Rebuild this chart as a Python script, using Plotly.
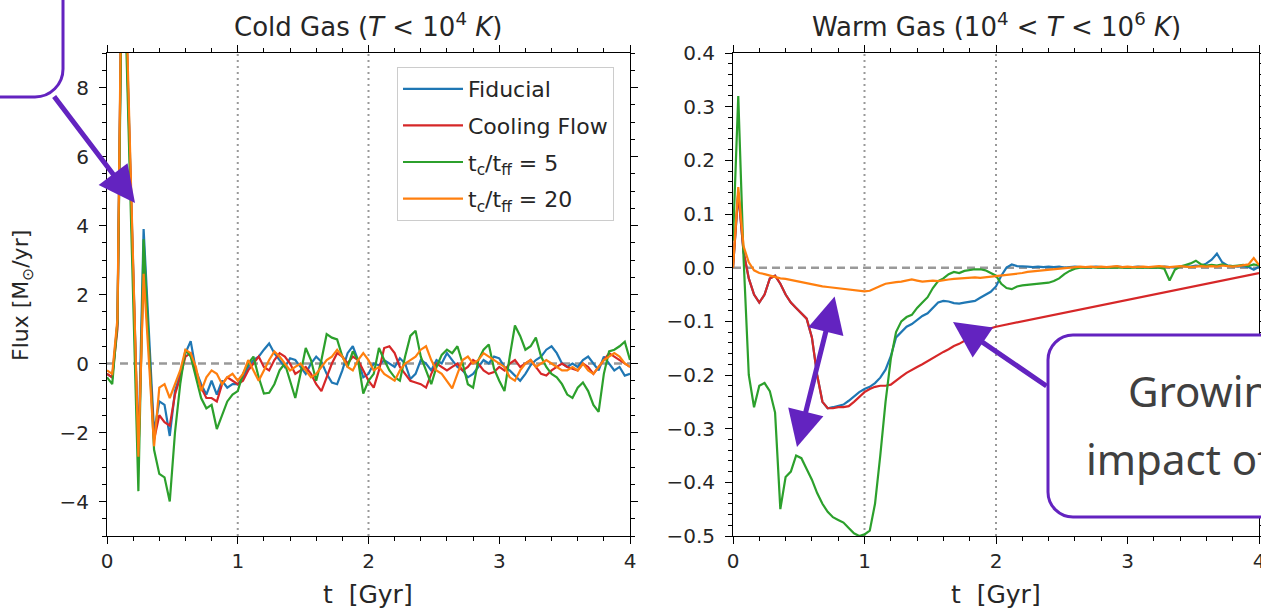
import plotly.graph_objects as go

# ---------------- data ----------------
t = [0.00, 0.04, 0.08, 0.12, 0.16, 0.20, 0.24, 0.28, 0.32, 0.36,
     0.40, 0.44, 0.48, 0.52, 0.56, 0.60, 0.64, 0.68, 0.72, 0.76,
     0.80, 0.84, 0.88, 0.92, 0.96, 1.00, 1.04, 1.08, 1.12, 1.16,
     1.20, 1.24, 1.28, 1.32, 1.36, 1.40, 1.44, 1.48, 1.52, 1.56,
     1.60, 1.64, 1.68, 1.72, 1.76, 1.80, 1.84, 1.88, 1.92, 1.96,
     2.00, 2.04, 2.08, 2.12, 2.16, 2.20, 2.24, 2.28, 2.32, 2.36,
     2.40, 2.44, 2.48, 2.52, 2.56, 2.60, 2.64, 2.68, 2.72, 2.76,
     2.80, 2.84, 2.88, 2.92, 2.96, 3.00, 3.04, 3.08, 3.12, 3.16,
     3.20, 3.24, 3.28, 3.32, 3.36, 3.40, 3.44, 3.48, 3.52, 3.56,
     3.60, 3.64, 3.68, 3.72, 3.76, 3.80, 3.84, 3.88, 3.92, 3.96,
     4.00]

series_names = ["Fiducial", "Cooling Flow",
                "t<sub>c</sub>/t<sub>ff</sub> = 5", "t<sub>c</sub>/t<sub>ff</sub> = 20"]
series_colors = ["#1f77b4", "#d62728", "#2ca02c", "#ff7f0e"]

cold_fiducial = [-0.3, -0.4, 1.2, 14.0, 8.2, 2.5, -2.6, 3.9, 0.8, -2.0,
                 -1.1, -1.2, -2.1, -0.8, -0.3, 0.3, 0.65, -0.2, -0.6, -0.9,
                 -0.5, -0.9, -0.5, -0.7, -0.6, -0.6, -0.4, -0.1, 0.1, 0.2,
                 0.4, 0.58, 0.3, 0.1, -0.1, 0.15, 0.1, -0.1, -0.3, 0.0,
                 0.2, 0.05, -0.3, -0.55, -0.6, -0.2, 0.3, 0.5, 0.1, -0.4,
                 -0.3, 0.0, -0.05, 0.1, 0.0, -0.1, 0.15, 0.0, -0.45, -0.3,
                 0.1, 0.0, -0.2, 0.1, 0.0, 0.3, 0.1, -0.1, -0.2, -0.4,
                 -0.3, -0.1, 0.1, 0.0, 0.2, 0.15, -0.1, -0.2, -0.35, -0.5,
                 -0.3, -0.05, 0.1, 0.2, 0.4, 0.5, 0.3, 0.0, -0.1, 0.0,
                 -0.1, 0.1, 0.2, 0.0, -0.2, 0.2, 0.0, -0.2, -0.1, -0.35,
                 -0.3]
cold_cooling = [-0.3, -0.4, 1.0, 14.0, 8.0, 2.3, -2.7, 2.8, 0.5, -2.2,
                -1.5, -1.7, -1.8, -0.9, -0.4, 0.2, 0.3, -0.3, -0.7, -1.0,
                -1.0, -1.1, -0.6, -0.4, -0.5, -0.6, -0.5, -0.2, 0.0, 0.2,
                -0.1, -0.2, 0.1, 0.3, 0.2, 0.0, -0.3, -0.2, -0.1, -0.3,
                -0.6, -0.8, -0.4, 0.0, 0.3, 0.2, 0.0, 0.2, 0.1, -0.2,
                -0.5, -0.7, -0.2, 0.45, 0.5, 0.3, -0.1, -0.3, -0.5, -0.55,
                -0.6, -0.7, -0.3, 0.0, -0.1, -0.2, -0.1, 0.0, -0.2, -0.1,
                0.1, 0.0, -0.2, -0.3, -0.25, -0.1, -0.2, 0.0, 0.1, -0.1,
                0.0, 0.1, -0.1, -0.3, -0.35, -0.2, -0.1, 0.0, -0.1, -0.15,
                -0.2, 0.0, -0.1, -0.3, -0.1, 0.1, 0.3, 0.2, 0.1, 0.0,
                -0.1]
cold_tc5 = [-0.4, -0.6, 1.2, 13.0, 7.5, 2.0, -3.7, 3.6, 0.5, -2.5,
            -3.2, -3.3, -4.0, -2.0, -0.6, 0.4, 0.2, -0.4, -1.0, -1.3,
            -1.2, -1.9, -1.5, -1.1, -0.9, -0.8, -0.3, 0.0, 0.2, -0.4,
            -0.87, -0.85, -0.6, -0.2, 0.0, -0.5, -1.0, -0.3, 0.45, 0.1,
            -0.5, 0.1, 0.85, 0.75, 0.7, 0.2, -0.1, 0.35, 0.1, -0.87,
            -0.5, -0.3, 0.45, 0.1, -0.2, -0.4, -0.5, 0.2, 0.8, 0.95,
            0.2, -0.2, -0.6, -0.1, 0.25, 0.4, 0.3, 0.5, 0.0, -0.6,
            -0.7, 0.1, 0.4, 0.55, -0.15, -0.5, -0.8, 0.2, 1.1, 0.8,
            0.4, 0.5, 0.75, 0.2, -0.1, -0.3, -0.4, -0.6, -0.9, -1.0,
            -0.7, -0.55, -0.8, -1.2, -1.4, -0.3, 0.35, 0.4, 0.5, 0.63,
            0.1]
cold_tc20 = [-0.2, -0.3, 1.3, 14.5, 8.5, 2.5, -2.7, 2.6, 0.2, -2.4,
             -0.7, -0.6, -1.0, -0.6, -0.2, 0.4, 0.3, -0.1, -0.8, -0.4,
             -0.2, -0.3, -0.6, -0.4, -0.3, -0.5, -0.3, 0.1, -0.2, -0.5,
             -0.2, 0.1, 0.35, 0.2, 0.0, -0.2, -0.1, 0.0, -0.2, -0.4,
             -0.3, -0.1, 0.1, 0.2, 0.4, 0.2, -0.1, -0.2, 0.1, 0.3,
             0.1, -0.2, -0.1, -0.3, -0.4, -0.5, -0.2, 0.0, 0.1, 0.2,
             0.4, 0.5, 0.1, -0.2, -0.3, -0.5, -0.72, -0.3, 0.1, 0.2,
             0.0, 0.1, 0.3, 0.2, 0.1, 0.0, -0.1, -0.4, -0.5, -0.2,
             0.0, 0.1, -0.1, 0.0, 0.1, 0.0, -0.1, -0.2, -0.2, -0.1,
             -0.2, 0.0, -0.2, -0.3, -0.1, 0.1, 0.2, 0.3, 0.2, 0.0,
             -0.1]

warm_fiducial = [0.0, 0.14, 0.03, -0.02, -0.05, -0.065, -0.05, -0.02, -0.015, -0.03,
                 -0.05, -0.065, -0.075, -0.085, -0.095, -0.13, -0.2, -0.25, -0.262, -0.26,
                 -0.258, -0.255, -0.248, -0.24, -0.232, -0.226, -0.222, -0.215, -0.205, -0.19,
                 -0.165, -0.13, -0.12, -0.11, -0.105, -0.098, -0.09, -0.085, -0.075, -0.065,
                 -0.062, -0.063, -0.066, -0.067, -0.065, -0.064, -0.062, -0.056, -0.05, -0.045,
                 -0.035, -0.015, 0.0, 0.006, 0.003, 0.003, 0.002, 0.001, 0.002, 0.001,
                 0.002, 0.001, 0.002, 0.0, 0.001, 0.002, 0.001, 0.0, 0.001, 0.002,
                 0.001, 0.0, 0.001, 0.002, 0.001, 0.0, 0.001, 0.002, 0.001, 0.0,
                 0.001, 0.0, 0.002, 0.001, 0.0, 0.002, 0.003, 0.002, 0.004, 0.003,
                 0.008, 0.015, 0.026, 0.01, 0.004, 0.003, 0.002, 0.003, 0.001, -0.004,
                 0.002]
warm_cooling = [0.0, 0.14, 0.03, -0.02, -0.05, -0.065, -0.05, -0.02, -0.015, -0.03,
                -0.05, -0.065, -0.075, -0.085, -0.095, -0.13, -0.2, -0.25, -0.262, -0.262,
                -0.26, -0.26, -0.258, -0.25, -0.24, -0.232, -0.226, -0.222, -0.22, -0.22,
                -0.218, -0.21, -0.203, -0.196, -0.19, -0.185, -0.18, -0.174, -0.168, -0.162,
                -0.157, -0.152, -0.146, -0.142, -0.136, -0.13, -0.125, -0.12, -0.116, -0.113,
                -0.11, -0.108, -0.105, -0.104, -0.101, -0.099, -0.098, -0.095, -0.093, -0.092,
                -0.089, -0.087, -0.086, -0.083, -0.082, -0.079, -0.078, -0.075, -0.074, -0.072,
                -0.069, -0.068, -0.066, -0.063, -0.062, -0.06, -0.057, -0.056, -0.054, -0.051,
                -0.05, -0.048, -0.045, -0.044, -0.042, -0.039, -0.038, -0.036, -0.033, -0.032,
                -0.03, -0.027, -0.026, -0.024, -0.021, -0.02, -0.018, -0.016, -0.014, -0.012,
                -0.01]
warm_tc5 = [0.05, 0.32, 0.02, -0.2, -0.26, -0.22, -0.215, -0.23, -0.27, -0.45,
            -0.39, -0.38, -0.35, -0.355, -0.375, -0.395, -0.42, -0.44, -0.455, -0.465,
            -0.47, -0.475, -0.485, -0.495, -0.5, -0.497, -0.49, -0.44, -0.35, -0.25,
            -0.17, -0.12, -0.1, -0.092, -0.088, -0.075, -0.065, -0.055, -0.038, -0.025,
            -0.02, -0.012, -0.008, -0.01, -0.006, -0.004, -0.003, -0.003, -0.005, -0.01,
            -0.015, -0.03, -0.038, -0.04, -0.035, -0.033, -0.032, -0.031, -0.03, -0.03,
            -0.028, -0.025, -0.02, -0.012, -0.006, -0.002, 0.0, 0.0, 0.001, 0.0,
            0.0, 0.001, 0.0, 0.0, 0.0, 0.0, 0.0, 0.0, 0.001, 0.0,
            0.0, 0.0, -0.002, -0.024, -0.004, 0.002, 0.005, 0.008, 0.013, 0.006,
            0.004, 0.005, 0.004, 0.006, 0.004, 0.003, 0.004, 0.005, 0.003, 0.006,
            0.004]
warm_tc20 = [0.0, 0.15, 0.04, 0.01, -0.005, -0.01, -0.012, -0.015, -0.018, -0.02,
             -0.021, -0.023, -0.025, -0.027, -0.03, -0.031, -0.033, -0.035, -0.036, -0.037,
             -0.038, -0.04, -0.041, -0.042, -0.043, -0.044, -0.043, -0.038, -0.034, -0.03,
             -0.028, -0.027, -0.026, -0.024, -0.022, -0.024, -0.026, -0.025, -0.024, -0.025,
             -0.023, -0.022, -0.021, -0.02, -0.02, -0.019, -0.018, -0.019, -0.018, -0.017,
             -0.016, -0.014, -0.013, -0.012, -0.011, -0.01, -0.008, -0.007, -0.006, -0.005,
             -0.004, -0.003, -0.002, -0.001, 0.001, 0.001, 0.002, 0.001, 0.002, 0.001,
             0.002, 0.001, 0.002, 0.003, 0.001, 0.002, 0.001, 0.002, 0.002, 0.001,
             0.002, 0.003, 0.002, 0.001, 0.002, 0.003, 0.002, 0.001, 0.002, 0.003,
             0.002, 0.003, 0.002, 0.004, 0.003, 0.002, 0.003, 0.004, 0.006, 0.018,
             0.005]

x_ticks = [0, 1, 2, 3, 4]
cold_y_ticks = [-4, -2, 0, 2, 4, 6, 8]
warm_y_ticks = [-0.5, -0.4, -0.3, -0.2, -0.1, 0.0, 0.1, 0.2, 0.3, 0.4]
marker_times = [1, 2]

# ---------------- layout geometry ----------------
W, H = 1261, 611
ML, MR, MT, MB = 107, 2, 53, 75
PW = W - ML - MR
PH = H - MT - MB


def px(x):
    return (x - ML) / PW


def py(y):
    return 1 - (y - MT) / PH


def rrect(x0, y0, x1, y1, r):
    k = 0.5523 * r
    def P(x, y):
        return f"{px(x):.5f},{py(y):.5f}"
    return (f"M {P(x0 + r, y0)} L {P(x1 - r, y0)} "
            f"C {P(x1 - r + k, y0)} {P(x1, y0 + r - k)} {P(x1, y0 + r)} "
            f"L {P(x1, y1 - r)} "
            f"C {P(x1, y1 - r + k)} {P(x1 - r + k, y1)} {P(x1 - r, y1)} "
            f"L {P(x0 + r, y1)} "
            f"C {P(x0 + r - k, y1)} {P(x0, y1 - r + k)} {P(x0, y1 - r)} "
            f"L {P(x0, y0 + r)} "
            f"C {P(x0, y0 + r - k)} {P(x0 + r - k, y0)} {P(x0 + r, y0)} Z")


FONT = "DejaVu Sans"
TXT = "#262626"
PURPLE = "#6323c0"

fig = go.Figure()

cold = [cold_fiducial, cold_cooling, cold_tc5, cold_tc20]
warm = [warm_fiducial, warm_cooling, warm_tc5, warm_tc20]

for name, col, ys in zip(series_names, series_colors, cold):
    fig.add_trace(go.Scatter(x=t, y=ys, mode="lines", name=name, legendgroup=name,
                             line=dict(color=col, width=2.2), xaxis="x", yaxis="y"))
for name, col, ys in zip(series_names, series_colors, warm):
    fig.add_trace(go.Scatter(x=t, y=ys, mode="lines", name=name, legendgroup=name,
                             showlegend=False,
                             line=dict(color=col, width=2.2), xaxis="x2", yaxis="y2"))

axis_common = dict(showline=True, linecolor="black", linewidth=1, mirror="ticks",
                   ticks="outside", ticklen=7, tickwidth=1, tickcolor="black",
                   showgrid=False, zeroline=False, automargin=False,
                   ticklabeloverflow="allow",
                   tickfont=dict(family=FONT, size=20, color=TXT))

shapes = []
for xr, yr in [("x", "y"), ("x2", "y2")]:
    for tm in marker_times:
        shapes.append(dict(type="line", xref=xr, yref=yr + " domain", x0=tm, x1=tm, y0=0, y1=1,
                           line=dict(color="#999999", width=2, dash="2px,4px"), layer="below"))
    shapes.append(dict(type="line", xref=xr + " domain", yref=yr, x0=0, x1=1, y0=0, y1=0,
                       line=dict(color="#999999", width=2.5, dash="8px,5px"), layer="below"))

# callout boxes
shapes.append(dict(type="path", xref="paper", yref="paper", path=rrect(-40, -40, 63, 97, 28),
                   line=dict(color=PURPLE, width=3), fillcolor="white", layer="above"))
shapes.append(dict(type="path", xref="paper", yref="paper", path=rrect(1048, 335, 1320, 517, 25),
                   line=dict(color=PURPLE, width=3), fillcolor="white", layer="above"))

annotations = [
    dict(text="Cold Gas (<i>T</i> &lt; 10<sup>4</sup> <i>K</i>)", x=px(368), y=py(25),
         xref="paper", yref="paper", showarrow=False, xanchor="center", yanchor="middle",
         font=dict(family=FONT, size=26, color=TXT)),
    dict(text="Warm Gas (10<sup>4</sup> &lt; <i>T</i> &lt; 10<sup>6</sup> <i>K</i>)", x=px(996), y=py(25),
         xref="paper", yref="paper", showarrow=False, xanchor="center", yanchor="middle",
         font=dict(family=FONT, size=26, color=TXT)),
    dict(text="t\u00a0\u00a0[Gyr]", x=px(368), y=py(594),
         xref="paper", yref="paper", showarrow=False, xanchor="center", yanchor="middle",
         font=dict(family=FONT, size=25, color=TXT)),
    dict(text="t\u00a0\u00a0[Gyr]", x=px(996), y=py(594),
         xref="paper", yref="paper", showarrow=False, xanchor="center", yanchor="middle",
         font=dict(family=FONT, size=25, color=TXT)),
    dict(text="Flux [M<sub>\u2299</sub>/yr]", x=px(22), y=py(296), textangle=-90,
         xref="paper", yref="paper", showarrow=False, xanchor="center", yanchor="middle",
         font=dict(family=FONT, size=22, color=TXT)),
    # arrows
    dict(text="", x=px(135), y=py(203), xref="paper", yref="paper", showarrow=True,
         ax=-82, ay=-108, arrowcolor=PURPLE, arrowwidth=5, arrowhead=2, arrowsize=1.45),
    dict(text="", x=px(797), y=py(447), xref="paper", yref="paper", showarrow=True,
         ax=38, ay=-152, arrowcolor=PURPLE, arrowwidth=5, arrowhead=2, arrowsize=1.45,
         startarrowhead=2, startarrowsize=1.45, arrowside="end+start"),
    dict(text="", x=px(953), y=py(322), xref="paper", yref="paper", showarrow=True,
         ax=95, ay=65, arrowcolor=PURPLE, arrowwidth=5, arrowhead=2, arrowsize=1.45),
    dict(text="Growing", x=px(1126), y=py(390), xref="paper", yref="paper", showarrow=False,
         xanchor="left", yanchor="middle", font=dict(family="Noto Sans", size=42, color="#404040")),
    dict(text="impact of", x=px(1084), y=py(458), xref="paper", yref="paper", showarrow=False,
         xanchor="left", yanchor="middle", font=dict(family="Noto Sans", size=42, color="#404040")),
]

fig.update_layout(
    width=W, height=H,
    margin=dict(l=ML, r=MR, t=MT, b=MB, pad=0, autoexpand=False),
    paper_bgcolor="white", plot_bgcolor="white",
    showlegend=True,
    legend=dict(x=px(397), y=py(67), xanchor="left", yanchor="top",
                bordercolor="#cccccc", borderwidth=1, bgcolor="rgba(255,255,255,0.85)",
                font=dict(family=FONT, size=22, color=TXT), tracegroupgap=5, itemwidth=60),
    xaxis=dict(axis_common, domain=[0, 523 / PW], range=[0, 4], tickvals=x_ticks,
               anchor="y", minor=dict(dtick=0.2, tick0=0, ticks="outside", ticklen=4, tickcolor="black")),
    yaxis=dict(axis_common, range=[-5, 9], tickvals=cold_y_ticks, anchor="x", ticklabelstandoff=6,
               minor=dict(dtick=0.5, tick0=0, ticks="outside", ticklen=4, tickcolor="black")),
    xaxis2=dict(axis_common, domain=[626 / PW, 1], range=[0, 4], tickvals=x_ticks,
                anchor="y2", minor=dict(dtick=0.2, tick0=0, ticks="outside", ticklen=4, tickcolor="black")),
    yaxis2=dict(axis_common, range=[-0.5, 0.4], tickvals=warm_y_ticks, tickformat=".1f",
                anchor="x2", ticklabelstandoff=6,
                minor=dict(dtick=0.02, tick0=0, ticks="outside", ticklen=4, tickcolor="black")),
    shapes=shapes,
    annotations=annotations,
)

fig.write_html("out.html")
